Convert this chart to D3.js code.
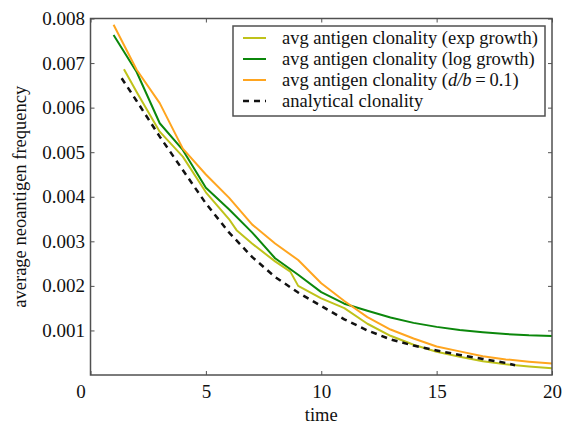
<!DOCTYPE html>
<html>
<head>
<meta charset="utf-8">
<script src="https://cdn.jsdelivr.net/npm/d3@7"></script>
</head>
<body style="margin:0">
<svg id="chart" width="570" height="427"></svg>
<script>
const xTicks = [0, 5, 10, 15, 20];
const yTicks = [0.001, 0.002, 0.003, 0.004, 0.005, 0.006, 0.007, 0.008];

const expTimes = [1.45, 2, 3, 4, 5, 6, 6.33, 7, 8, 8.66, 9, 10, 11, 12, 13, 14, 15, 16, 17, 18, 19, 20];
const expValues = [6.86, 6.35, 5.46, 4.9, 4.1, 3.5, 3.25, 2.95, 2.55, 2.32, 2.0, 1.72, 1.5, 1.15, 0.88, 0.68, 0.52, 0.41, 0.31, 0.24, 0.19, 0.15];

const logTimes = [1, 2, 3, 4, 5, 6, 7, 8, 9, 10, 11, 12, 13, 14, 15, 16, 17, 18, 19, 20];
const logValues = [7.63, 6.8, 5.65, 5.05, 4.2, 3.72, 3.2, 2.62, 2.25, 1.86, 1.6, 1.44, 1.29, 1.17, 1.08, 1.01, 0.96, 0.92, 0.89, 0.875];

const deathTimes = [1, 2, 3, 4, 5, 6, 7, 8, 9, 10, 11, 12, 13, 14, 15, 16, 17, 18, 19, 20];
const deathValues = [7.86, 6.85, 6.1, 5.08, 4.5, 3.98, 3.38, 2.95, 2.58, 2.06, 1.66, 1.3, 1.02, 0.82, 0.64, 0.53, 0.42, 0.35, 0.3, 0.26];

const analyticTimes = [1.35, 2, 3, 4, 5, 6, 7, 8, 9, 10, 11, 12, 13, 14, 15, 16, 17, 18, 18.4];
const analyticValues = [6.66, 6.15, 5.35, 4.6, 3.85, 3.2, 2.65, 2.2, 1.85, 1.55, 1.25, 1.0, 0.8, 0.66, 0.55, 0.45, 0.36, 0.27, 0.22];

const width = 570;
const height = 427;
const margin = { top: 18.5, right: 18, bottom: 52, left: 90.5 };
const innerW = width - margin.left - margin.right;
const innerH = height - margin.top - margin.bottom;
const serif = "'Liberation Serif'";

const toPoints = (times, values) => times.map((t, i) => [t, values[i] / 1000]);

const series = [
  { name: "exp", color: "#bfc21a", dash: null, width: 2, points: toPoints(expTimes, expValues) },
  { name: "log", color: "#0b870b", dash: null, width: 2, points: toPoints(logTimes, logValues) },
  { name: "death", color: "#ffa51f", dash: null, width: 2, points: toPoints(deathTimes, deathValues) },
  { name: "analytic", color: "#111", dash: "6,5", width: 2.5, points: toPoints(analyticTimes, analyticValues) },
];

const x = d3.scaleLinear().domain([0, 20]).range([0, innerW]);
const y = d3.scaleLinear().domain([0, 0.008]).range([innerH, 0]);

const svg = d3.select("#chart");

const plot = svg
  .append("g")
  .attr("transform", `translate(${margin.left}, ${margin.top})`);

const frameColor = "#505050";

// inward ticks on all four sides, like the classic matplotlib style
const xAxis = plot
  .append("g")
  .attr("transform", `translate(0, ${innerH})`)
  .call(d3.axisBottom(x).tickValues(xTicks).tickSize(-4).tickPadding(10).tickFormat(d3.format("d")));

xAxis.selectAll("text").filter((d) => d === 0).attr("dx", "-10");

plot
  .append("g")
  .call(d3.axisTop(x).tickValues(xTicks).tickSize(-4).tickFormat(""));

plot
  .append("g")
  .call(d3.axisLeft(y).tickValues(yTicks).tickSize(-4).tickPadding(5.5).tickFormat(d3.format(".3f")));

plot
  .append("g")
  .attr("transform", `translate(${innerW}, 0)`)
  .call(d3.axisRight(y).tickValues(yTicks).tickSize(-4).tickFormat(""));

plot.selectAll(".domain").remove();
plot.selectAll("g").attr("font-family", null).attr("font-size", null);
plot.selectAll(".tick line").attr("stroke", frameColor).attr("stroke-width", 1);
plot
  .selectAll(".tick text")
  .attr("fill", "#111")
  .style("font-family", serif)
  .style("font-size", "19px");

const line = d3
  .line()
  .x((d) => x(d[0]))
  .y((d) => y(d[1]));

plot
  .selectAll("path.series")
  .data(series)
  .enter()
  .append("path")
  .attr("class", "series")
  .attr("fill", "none")
  .attr("stroke", (d) => d.color)
  .attr("stroke-width", (d) => d.width)
  .attr("stroke-dasharray", (d) => d.dash)
  .attr("stroke-linejoin", "round")
  .attr("d", (d) => line(d.points));

plot
  .append("rect")
  .attr("width", innerW)
  .attr("height", innerH)
  .attr("fill", "none")
  .attr("stroke", frameColor)
  .attr("stroke-width", 1.5);

svg
  .append("text")
  .attr("x", margin.left + innerW / 2)
  .attr("y", 421)
  .attr("text-anchor", "middle")
  .attr("fill", "#111")
  .style("font-family", serif)
  .style("font-size", "18.5px")
  .text("time");

svg
  .append("text")
  .attr("transform", `translate(25.5, ${margin.top + innerH / 2}) rotate(-90)`)
  .attr("text-anchor", "middle")
  .attr("fill", "#111")
  .style("font-family", serif)
  .style("font-size", "18.5px")
  .text("average neoantigen frequency");

const legend = svg.append("g").attr("transform", "translate(233, 26)");

legend
  .append("rect")
  .attr("width", 312)
  .attr("height", 90)
  .attr("fill", "#fff")
  .attr("stroke", frameColor)
  .attr("stroke-width", 1.5);

const legendRows = legend
  .selectAll("g.row")
  .data(series)
  .enter()
  .append("g")
  .attr("class", "row")
  .attr("transform", (_, i) => `translate(0, ${12 + i * 21})`);

legendRows
  .append("line")
  .attr("x1", 10)
  .attr("x2", 33)
  .attr("stroke", (d) => d.color)
  .attr("stroke-width", (d) => d.width)
  .attr("stroke-dasharray", (d) => d.dash);

const legendText = legendRows
  .append("text")
  .attr("x", 49)
  .attr("y", 6)
  .attr("fill", "#111")
  .style("font-family", serif)
  .style("font-size", "18.5px");

legendText.each(function (d) {
  const t = d3.select(this);
  if (d.name === "exp") t.text("avg antigen clonality (exp growth)");
  if (d.name === "log") t.text("avg antigen clonality (log growth)");
  if (d.name === "analytic") t.text("analytical clonality");
  if (d.name === "death") {
    t.append("tspan").text("avg antigen clonality (");
    t.append("tspan").style("font-style", "italic").text("d/b");
    t.append("tspan").text("\u2009=\u20090.1)");
  }
});
</script>
</body>
</html>
